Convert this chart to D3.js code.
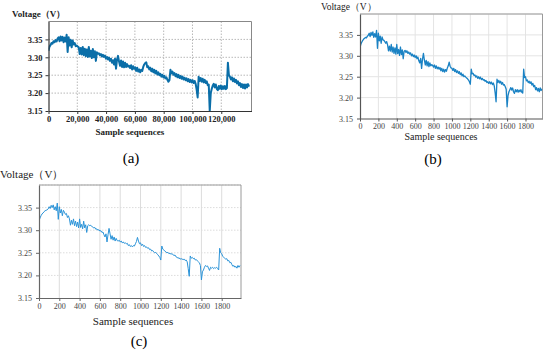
<!DOCTYPE html>
<html><head><meta charset="utf-8">
<script src="https://cdn.jsdelivr.net/npm/d3@7"></script>
<style>body{margin:0;background:#fff}svg{display:block}</style>
</head><body><svg id="c" width="550" height="355"></svg>
<script>
// ---------- data ----------
const yTicks = [3.15, 3.20, 3.25, 3.30, 3.35];
const xTicksA = [0, 20000, 40000, 60000, 80000, 100000, 120000];
const xTicksBC = [0, 200, 400, 600, 800, 1000, 1200, 1400, 1600, 1800];
const stepA = 700;   // sample spacing of series A
const stepBC = 10;   // sample spacing of series B and C
const seriesA = [3.318,3.330,3.334,3.340,3.338,3.345,3.342,3.348,3.344,3.352,
3.356,3.345,3.358,3.347,3.357,3.342,3.355,3.344,3.363,3.315,
3.356,3.333,3.349,3.328,3.347,3.336,3.340,3.331,3.333,3.330,
3.328,3.309,3.326,3.308,3.329,3.306,3.324,3.303,3.322,3.301,
3.329,3.302,3.318,3.298,3.323,3.300,3.317,3.290,3.314,3.310,
3.311,3.306,3.309,3.302,3.307,3.301,3.305,3.296,3.301,3.294,
3.299,3.290,3.296,3.285,3.292,3.280,3.296,3.268,3.294,3.304,
3.288,3.276,3.291,3.273,3.288,3.272,3.285,3.273,3.281,3.274,
3.276,3.270,3.278,3.266,3.275,3.268,3.272,3.262,3.271,3.260,
3.266,3.258,3.265,3.262,3.273,3.280,3.284,3.286,3.272,3.275,
3.266,3.271,3.261,3.268,3.258,3.265,3.255,3.262,3.252,3.258,
3.250,3.254,3.246,3.251,3.244,3.248,3.241,3.244,3.237,3.232,
3.236,3.265,3.255,3.260,3.251,3.256,3.247,3.253,3.244,3.251,
3.242,3.248,3.240,3.246,3.238,3.243,3.236,3.241,3.233,3.239,
3.231,3.237,3.230,3.236,3.228,3.234,3.226,3.210,3.188,3.246,
3.234,3.242,3.232,3.240,3.230,3.237,3.228,3.233,3.222,3.224,
3.150,3.200,3.212,3.221,3.226,3.216,3.224,3.212,3.208,3.220,
3.212,3.221,3.211,3.219,3.212,3.220,3.211,3.214,3.285,3.250,
3.246,3.238,3.244,3.233,3.241,3.231,3.237,3.227,3.233,3.222,
3.228,3.217,3.225,3.214,3.224,3.213,3.224,3.216,3.225,3.218];
const seriesB = [3.320,3.328,3.333,3.337,3.340,3.342,3.344,3.343,3.347,3.349,
3.354,3.346,3.356,3.349,3.357,3.344,3.353,3.345,3.361,3.318,
3.354,3.336,3.347,3.330,3.345,3.338,3.337,3.334,3.330,3.334,
3.326,3.312,3.323,3.311,3.327,3.309,3.321,3.306,3.319,3.304,
3.327,3.305,3.315,3.301,3.321,3.303,3.314,3.293,3.311,3.313,
3.308,3.312,3.306,3.309,3.304,3.307,3.300,3.304,3.298,3.302,
3.296,3.300,3.293,3.297,3.288,3.283,3.294,3.270,3.292,3.306,
3.290,3.278,3.289,3.276,3.286,3.274,3.283,3.276,3.279,3.277,
3.273,3.278,3.270,3.276,3.269,3.273,3.268,3.272,3.264,3.270,
3.262,3.268,3.261,3.267,3.263,3.271,3.276,3.285,3.275,3.271,
3.270,3.265,3.270,3.262,3.267,3.260,3.264,3.258,3.262,3.255,
3.259,3.252,3.256,3.250,3.252,3.249,3.247,3.245,3.242,3.238,
3.232,3.268,3.257,3.258,3.253,3.254,3.249,3.252,3.246,3.250,
3.245,3.249,3.243,3.246,3.242,3.243,3.239,3.241,3.236,3.238,
3.234,3.238,3.233,3.237,3.231,3.235,3.228,3.212,3.190,3.244,
3.236,3.241,3.235,3.239,3.232,3.236,3.230,3.231,3.226,3.220,
3.178,3.205,3.214,3.219,3.224,3.218,3.223,3.214,3.210,3.219,
3.214,3.219,3.213,3.218,3.214,3.219,3.213,3.211,3.268,3.248,
3.250,3.240,3.242,3.236,3.239,3.234,3.238,3.230,3.234,3.226,
3.229,3.219,3.224,3.216,3.222,3.214,3.223,3.217,3.221];
const seriesC = [3.320,3.327,3.332,3.336,3.338,3.341,3.343,3.344,3.345,3.347,
3.352,3.348,3.355,3.350,3.356,3.345,3.352,3.343,3.360,3.324,
3.352,3.338,3.346,3.332,3.344,3.340,3.335,3.337,3.328,3.332,
3.325,3.311,3.322,3.313,3.325,3.310,3.320,3.308,3.318,3.305,
3.325,3.306,3.313,3.303,3.320,3.305,3.312,3.295,3.310,3.312,
3.310,3.311,3.308,3.307,3.305,3.306,3.302,3.303,3.300,3.301,
3.298,3.299,3.295,3.296,3.290,3.285,3.292,3.274,3.290,3.304,
3.292,3.280,3.288,3.278,3.285,3.276,3.282,3.277,3.276,3.278,
3.274,3.276,3.272,3.274,3.271,3.272,3.270,3.271,3.266,3.268,
3.264,3.266,3.263,3.266,3.265,3.270,3.275,3.284,3.276,3.270,
3.272,3.266,3.269,3.264,3.266,3.262,3.263,3.260,3.261,3.257,
3.258,3.254,3.255,3.252,3.250,3.251,3.248,3.246,3.243,3.240,
3.234,3.265,3.258,3.256,3.254,3.252,3.250,3.251,3.248,3.249,
3.247,3.248,3.246,3.244,3.245,3.241,3.240,3.238,3.239,3.236,
3.237,3.236,3.235,3.236,3.233,3.234,3.230,3.215,3.198,3.243,
3.238,3.240,3.237,3.238,3.234,3.235,3.232,3.230,3.228,3.222,
3.190,3.208,3.212,3.218,3.222,3.220,3.221,3.216,3.211,3.218,
3.216,3.218,3.215,3.217,3.216,3.218,3.215,3.212,3.260,3.250,
3.248,3.242,3.240,3.238,3.236,3.237,3.232,3.233,3.228,3.229,
3.224,3.220,3.222,3.218,3.220,3.216,3.222,3.218,3.222];

// ---------- drawing ----------
const svg = d3.select("#c");
const FONT = "'Liberation Serif','DejaVu Serif','Times New Roman',serif";

function panel(o) {
  const x = d3.scaleLinear().domain(o.xDomain).range([o.l, o.r]);
  const y = d3.scaleLinear().domain([3.15, 3.40]).range([o.b, o.t]);
  const g = svg.append("g");
  // grid
  g.selectAll(".gx").data(o.xTicks.slice(1)).enter().append("line")
    .attr("x1", d => x(d)).attr("x2", d => x(d)).attr("y1", o.t).attr("y2", o.b)
    .attr("stroke", o.gridColor).attr("stroke-width", 1)
    .attr("stroke-dasharray", o.vDash);
  g.selectAll(".gy").data(yTicks.slice(1).concat([3.40])).enter().append("line")
    .attr("x1", o.l).attr("x2", o.r).attr("y1", d => y(d)).attr("y2", d => y(d))
    .attr("stroke", o.gridColor).attr("stroke-width", 1)
    .attr("stroke-dasharray", o.hDash);
  // frame top/right
  g.append("path").attr("d", `M${o.l},${o.t}H${o.r}V${o.b}`)
    .attr("fill", "none").attr("stroke", o.frameColor).attr("stroke-width", 1);
  // line
  g.append("clipPath").attr("id", "clip" + o.id).append("rect")
    .attr("x", o.l).attr("y", o.t).attr("width", o.r - o.l).attr("height", o.b - o.t + 1);
  const line = d3.line().x((d, i) => x(i * o.step)).y(d => y(d));
  g.append("path").datum(o.data).attr("d", line)
    .attr("clip-path", `url(#clip${o.id})`)
    .attr("fill", "none").attr("stroke", o.color).attr("stroke-width", o.sw)
    .attr("stroke-linejoin", "round");
  // axes
  const ax = g.append("g").attr("transform", `translate(0,${o.b})`)
    .call(d3.axisBottom(x).tickValues(o.xTicks).tickFormat(o.xFmt).tickSize(3).tickPadding(2).tickSizeOuter(0));
  const ay = g.append("g").attr("transform", `translate(${o.l},0)`)
    .call(d3.axisLeft(y).tickValues(yTicks).tickFormat(d3.format(".2f")).tickSize(3).tickSizeOuter(0));
  [ax, ay].forEach(a => {
    a.attr("font-family", FONT);
    a.select(".domain").attr("stroke", o.axisColor).attr("stroke-width", 1.2);
    a.selectAll(".tick line").attr("stroke", o.axisColor);
    a.selectAll("text").attr("font-family", FONT).attr("font-size", o.tickSize)
      .attr("fill", o.tickColor).attr("font-weight", o.tickWeight);
  });
  ay.selectAll("text").attr("x", -o.ydx);
  // labels
  g.append("text").attr("x", o.ylx).attr("y", o.yly).text("Voltage（V）")
    .attr("font-family", FONT).attr("font-size", o.ylSize).attr("font-weight", o.lblWeight).attr("fill", "#222");
  g.append("text").attr("x", o.xlx).attr("y", o.xly).text("Sample sequences")
    .attr("text-anchor", "middle").attr("font-family", FONT).attr("font-size", o.xlSize)
    .attr("font-weight", o.lblWeight).attr("fill", "#222");
  g.append("text").attr("x", o.capx).attr("y", o.capy).text(o.cap)
    .attr("text-anchor", "middle").attr("font-family", FONT).attr("font-size", 15).attr("fill", "#000");
}

panel({id: "a", data: seriesA, step: stepA, xDomain: [0, 141000], xTicks: xTicksA, xFmt: d3.format(","),
  l: 48.5, r: 251.5, t: 21.5, b: 111, color: "#0a6ea8", sw: 2,
  gridColor: "#b8b8b8", vDash: "1.5,1.5", hDash: "1.5,1.5", frameColor: "#888",
  axisColor: "#333", tickColor: "#222", tickSize: 8.5, tickWeight: "bold", ydx: 6,
  ylx: 12, yly: 17, ylSize: 9, xlx: 130, xly: 135, xlSize: 9, lblWeight: "bold",
  cap: "(a)", capx: 131, capy: 163});

panel({id: "b", data: seriesB, step: stepBC, xDomain: [0, 1985], xTicks: xTicksBC, xFmt: d3.format("d"),
  l: 360, r: 542.5, t: 14, b: 118.5, color: "#1a82c4", sw: 1.3,
  gridColor: "#e4e4e4", vDash: null, hDash: null, frameColor: "#9a9a9a",
  axisColor: "#555", tickColor: "#444", tickSize: 8, tickWeight: "normal", ydx: 7,
  ylx: 321, yly: 10, ylSize: 9.5, xlx: 441, xly: 139.5, xlSize: 10, lblWeight: "normal",
  cap: "(b)", capx: 433, capy: 164});

panel({id: "c", data: seriesC, step: stepBC, xDomain: [0, 1990], xTicks: xTicksBC, xFmt: d3.format("d"),
  l: 39, r: 241, t: 185, b: 298, color: "#2a93d8", sw: 1,
  gridColor: "#dcdcdc", vDash: null, hDash: "1.5,1.5", frameColor: "#9a9a9a",
  axisColor: "#666", tickColor: "#444", tickSize: 8, tickWeight: "normal", ydx: 7,
  ylx: 0, yly: 178, ylSize: 11, xlx: 133, xly: 325, xlSize: 11, lblWeight: "normal",
  cap: "(c)", capx: 139, capy: 346});
</script></body></html>
